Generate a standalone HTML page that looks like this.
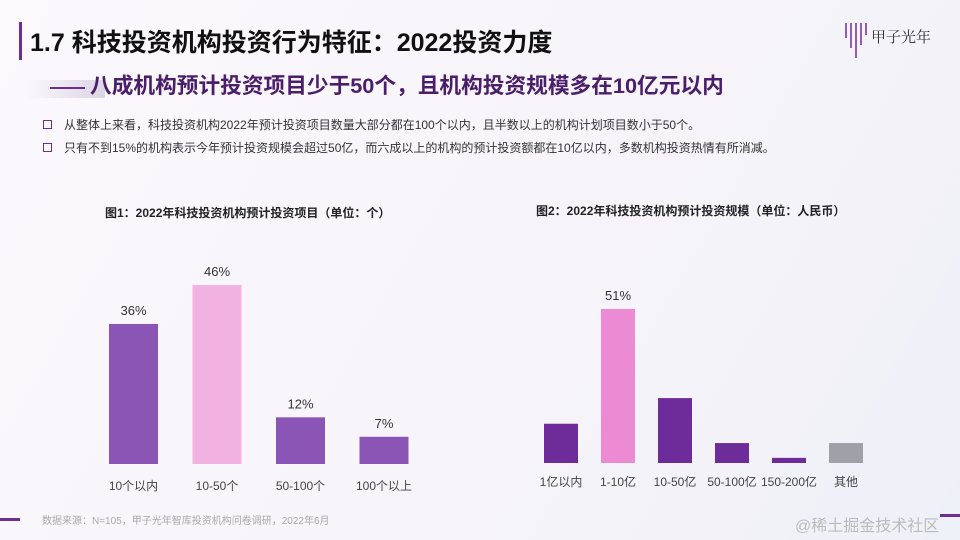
<!DOCTYPE html>
<html><head><meta charset="utf-8"><style>
*{margin:0;padding:0;box-sizing:border-box}
body{width:960px;height:540px;overflow:hidden;background:linear-gradient(120deg,#fbf9fc 0%,#f6f4f9 60%,#eef0f8 100%);font-family:"Liberation Sans","Noto Sans CJK SC",sans-serif;position:relative;color:#222}
.abs{position:absolute}
</style></head><body>
<div class="abs" style="left:19px;top:22px;width:3px;height:38px;background:#6b2f8f"></div>
<div class="abs" style="left:30px;top:23px;font-size:25px;font-weight:bold;color:#111;white-space:nowrap">1.7 科技投资机构投资行为特征：2022投资力度</div>
<div class="abs" style="left:843px;top:20px;width:80px;height:40px">
<svg width="30" height="40"><g stroke="#7a3aa0" stroke-width="1.6"><line x1="3" y1="3" x2="3" y2="18"/><line x1="8" y1="3" x2="8" y2="28"/><line x1="13" y1="3" x2="13" y2="38"/><line x1="18" y1="3" x2="18" y2="25"/><line x1="23" y1="3" x2="23" y2="15"/></g></svg>
<div class="abs" style="left:28px;top:6px;font-size:15px;font-family:'Noto Serif CJK SC',serif;color:#333;white-space:nowrap">甲子光年</div>
</div>
<div class="abs" style="left:25px;top:80px;width:80px;height:18px;background:linear-gradient(90deg,rgba(200,190,215,0),rgba(200,190,215,.6))"></div>
<div class="abs" style="left:50px;top:87px;width:35px;height:2px;background:#6b2f8f"></div>
<div class="abs" style="left:90px;top:69px;font-size:21.7px;font-weight:bold;color:#4a1e6a;white-space:nowrap">八成机构预计投资项目少于50个，且机构投资规模多在10亿元以内</div>
<div class="abs" style="left:43px;top:116px;font-size:12px;color:#333;white-space:nowrap"><span style="display:inline-block;width:9px;height:9px;border:1.5px solid #6b2f8f;margin-right:12px"></span>从整体上来看，科技投资机构2022年预计投资项目数量大部分都在100个以内，且半数以上的机构计划项目数小于50个。</div>
<div class="abs" style="left:43px;top:139px;font-size:12px;color:#333;white-space:nowrap"><span style="display:inline-block;width:9px;height:9px;border:1.5px solid #6b2f8f;margin-right:12px"></span>只有不到15%的机构表示今年预计投资规模会超过50亿，而六成以上的机构的预计投资额都在10亿以内，多数机构投资热情有所消减。</div>
<div class="abs" style="left:105px;top:204px;font-size:12px;font-weight:bold;white-space:nowrap">图1：2022年科技投资机构预计投资项目（单位：个）</div>
<div class="abs" style="left:536px;top:202px;font-size:12px;font-weight:bold;white-space:nowrap">图2：2022年科技投资机构预计投资规模（单位：人民币）</div>
<svg id="c" class="abs" style="left:0;top:0" width="960" height="540"></svg>
<div class="abs" style="left:0;top:518px;width:20px;height:3px;background:#6b2f8f"></div>
<div class="abs" style="left:42px;top:512px;font-size:10px;color:#aaa;white-space:nowrap">数据来源：N=105，甲子光年智库投资机构问卷调研，2022年6月</div>
<div class="abs" style="left:940px;top:514px;width:20px;height:3px;background:#6b2f8f"></div>
<div class="abs" style="left:795px;top:512px;font-size:16px;color:#bbb;white-space:nowrap">@稀土掘金技术社区</div>
<script>
const cats1=["10个以内","10-50个","50-100个","100个以上"];
const vals1=[36,46,12,7];
const labels1=["36%","46%","12%","7%"];
const colors1=["#8a55b5","#f2b2e0","#8a55b5","#8a55b5"];
const cats2=["1亿以内","1-10亿","10-50亿","50-100亿","150-200亿","其他"];
const vals2=[13,51,21.5,6.6,1.7,6.6];
const labels2=["","51%","","","",""];
const colors2=["#6e2c9a","#ec8ad4","#6e2c9a","#6e2c9a","#6e2c9a","#a0a0a8"];
const svg=document.getElementById('c');const NS="http://www.w3.org/2000/svg";
function draw(cats,vals,labels,colors,x0,step,w,base,scale,labY,pre){
 const y=v=>base-v*scale;
 cats.forEach((c,i)=>{
  const x=x0+i*step;
  const r=document.createElementNS(NS,'rect');
  r.setAttribute('x',x);r.setAttribute('y',y(vals[i]));r.setAttribute('width',w);r.setAttribute('height',base-y(vals[i]));r.setAttribute('fill',colors[i]);
  
  
  svg.appendChild(r);
  const t=document.createElementNS(NS,'text');
  t.setAttribute('x',x+w/2);t.setAttribute('y',labY);t.setAttribute('text-anchor','middle');t.setAttribute('font-size','12');t.setAttribute('fill','#444');t.textContent=c;
  
  
  svg.appendChild(t);
  if(labels[i]){const l=document.createElementNS(NS,'text');
  l.setAttribute('x',x+w/2);l.setAttribute('y',y(vals[i])-9);l.setAttribute('text-anchor','middle');l.setAttribute('font-size','13');l.setAttribute('fill','#333');l.textContent=labels[i];
  
  
  svg.appendChild(l);}
 });
}
draw(cats1,vals1,labels1,colors1,109,83.5,49,464,3.89,490,'chart1');
draw(cats2,vals2,labels2,colors2,544,57,34,463,3.02,486,'chart2');
</script>
</body></html>
